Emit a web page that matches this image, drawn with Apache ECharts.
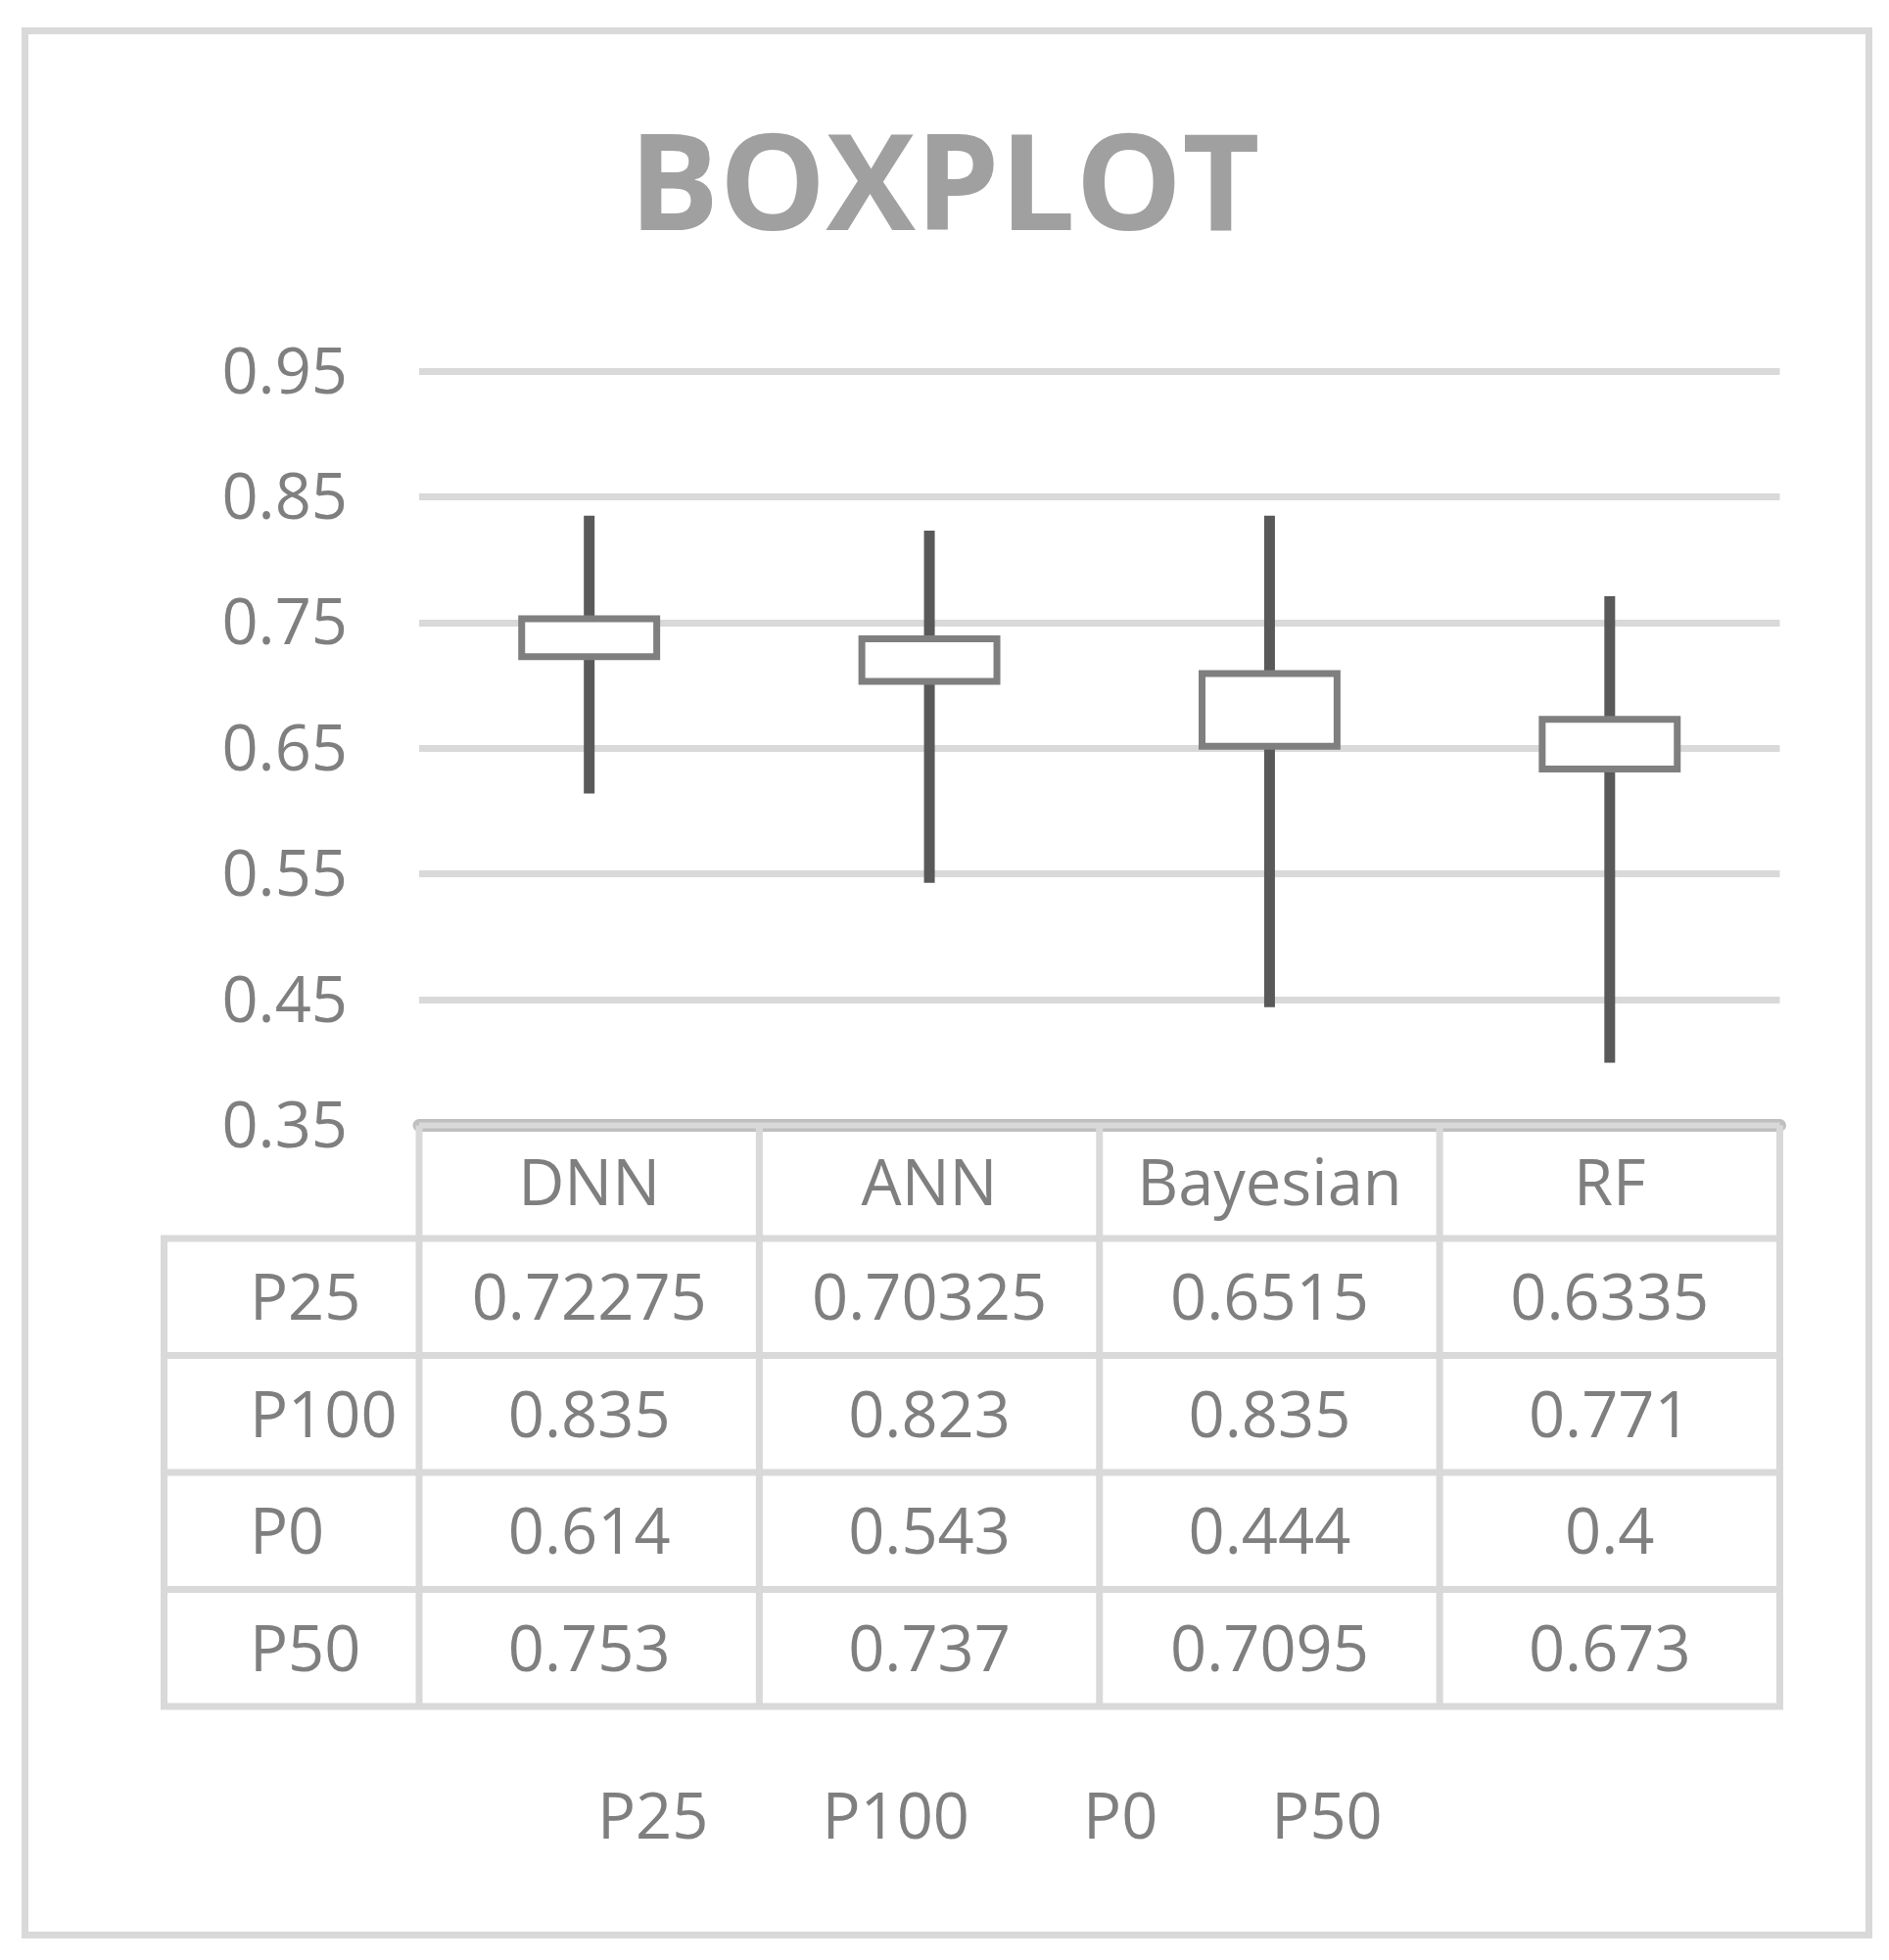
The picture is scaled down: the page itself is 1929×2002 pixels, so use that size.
<!DOCTYPE html>
<html>
<head>
<meta charset="utf-8">
<script src="https://cdn.jsdelivr.net/npm/echarts@6/dist/echarts.min.js"></script>
<style>
  html, body { margin: 0; padding: 0; background: #ffffff; }
  #chart { width: 1929px; height: 2002px; }
</style>
</head>
<body>
<div id="chart"></div>
<script>
// ---- data ----
const categories = ['DNN', 'ANN', 'Bayesian', 'RF'];
const seriesNames = ['P25', 'P100', 'P0', 'P50'];
const p25  = [0.72275, 0.70325, 0.6515, 0.6335];
const p100 = [0.835, 0.823, 0.835, 0.771];
const p0   = [0.614, 0.543, 0.444, 0.4];
const p50  = [0.753, 0.737, 0.7095, 0.673];
const yTicks = [0.35, 0.45, 0.55, 0.65, 0.75, 0.85, 0.95];

const seriesValues = [p25, p100, p0, p50];
const FONT = '"Open Sans", "Noto Sans", sans-serif';
const TXT = '#7f7f7f';
const FS = 65;

const chart = echarts.init(document.getElementById('chart'), null, { renderer: 'canvas' });

const boxData = categories.map((c, i) => [i, p25[i], p100[i], p0[i], p50[i]]);

const HEADER_H = 115.5;
const ROW_H = 119.5;
const TEXT_SHIFT = 5;

const option = {
  animation: false,
  backgroundColor: '#ffffff',
  title: {
    text: 'BOXPLOT',
    left: 'center',
    top: 122,
    textStyle: { fontFamily: FONT, fontWeight: 'bold', fontSize: 137, color: '#a0a0a0' }
  },
  legend: {
    data: seriesNames,
    left: 575,
    top: 1822,
    itemWidth: 25,
    itemHeight: 14,
    itemGap: 86,
    icon: 'rect',
    itemStyle: { opacity: 0 },
    lineStyle: { opacity: 0 },
    selectedMode: false,
    textStyle: { fontFamily: FONT, fontSize: FS, color: TXT }
  },
  grid: { left: 428, right: 111.5, top: 379, bottom: 852.4, containLabel: false },
  xAxis: {
    type: 'category',
    data: categories,
    boundaryGap: true,
    axisTick: { show: false },
    axisLine: { show: true, lineStyle: { color: '#bfbfbf', width: 13 } },
    axisLabel: {
      interval: 0,
      margin: TEXT_SHIFT,
      verticalAlign: 'top',
      formatter: function (name) {
        const i = categories.indexOf(name);
        let s = '{h|' + name + '}';
        seriesValues.forEach(arr => { s += '\n{v|' + String(arr[i]) + '}'; });
        return s;
      },
      rich: {
        h: { fontFamily: FONT, fontSize: FS, color: TXT, lineHeight: HEADER_H, align: 'center' },
        v: { fontFamily: FONT, fontSize: FS, color: TXT, lineHeight: ROW_H, align: 'center' }
      }
    }
  },
  yAxis: {
    type: 'value',
    min: yTicks[0],
    max: yTicks[yTicks.length - 1],
    interval: 0.1,
    axisLine: { show: false },
    axisTick: { show: false },
    axisLabel: {
      margin: 73,
      verticalAlign: 'top',
      lineHeight: 8,
      fontFamily: FONT, fontSize: FS, color: TXT,
      formatter: v => Number(v).toFixed(2)
    },
    splitLine: { show: true, lineStyle: { color: '#d9d9d9', width: 7 } }
  },
  series: [
    ...seriesNames.map((n, k) => ({
      name: n,
      type: 'line',
      data: seriesValues[k],
      symbol: 'none',
      silent: true,
      lineStyle: { opacity: 0 },
      itemStyle: { opacity: 0 },
      z: 1
    })),
    {
      name: 'box',
      type: 'custom',
      data: boxData,
      encode: { x: 0, y: [1, 2, 3, 4] },
      z: 5,
      renderItem: function (params, api) {
        const idx = api.value(0);
        const q1 = api.coord([idx, api.value(1)]);
        const hi = api.coord([idx, api.value(2)]);
        const lo = api.coord([idx, api.value(3)]);
        const q2 = api.coord([idx, api.value(4)]);
        const band = api.size([1, 0])[0];
        const w = band * 0.397;
        const top = Math.min(q1[1], q2[1]);
        const h = Math.abs(q1[1] - q2[1]);
        return {
          type: 'group',
          children: [
            { type: 'line', shape: { x1: hi[0], y1: hi[1], x2: lo[0], y2: lo[1] },
              style: { stroke: '#595959', lineWidth: 11, lineCap: 'butt' } },
            { type: 'rect', shape: { x: q1[0] - w / 2, y: top, width: w, height: h },
              style: { fill: '#ffffff', stroke: '#7f7f7f', lineWidth: 7 } }
          ]
        };
      }
    }
  ]
};

chart.setOption(option);

// ---- table grid lines & row labels derived from the axes ----
const xa = chart.convertToPixel({ xAxisIndex: 0 }, 0);
const xb = chart.convertToPixel({ xAxisIndex: 0 }, 1);
const band = xb - xa;
const x0 = xa - band / 2;
const xEnd = x0 + band * categories.length;
const y0 = chart.convertToPixel({ yAxisIndex: 0 }, yTicks[0]);
const labelColX = 167.5;
const LINE = '#d9d9d9';
const LW = 7;

const graphics = [];
// outer chart border
graphics.push({ type: 'rect', shape: { x: 25.5, y: 31.5, width: 1883, height: 1945 },
  style: { fill: null, stroke: LINE, lineWidth: LW }, z: 0, silent: true });
// table top line (inside axis line)
graphics.push({ type: 'line', shape: { x1: x0, y1: y0, x2: xEnd, y2: y0 },
  style: { stroke: LINE, lineWidth: 6 }, z: 100, silent: true });
const rowLines = [];
for (let k = 0; k <= seriesNames.length; k++) rowLines.push(y0 + HEADER_H + k * ROW_H);
const yBottom = rowLines[rowLines.length - 1];
rowLines.forEach(y => {
  graphics.push({ type: 'line', shape: { x1: labelColX - LW / 2, y1: y, x2: xEnd + LW / 2, y2: y },
    style: { stroke: LINE, lineWidth: LW }, z: 100, silent: true });
});
for (let i = 0; i <= categories.length; i++) {
  const x = x0 + i * band;
  graphics.push({ type: 'line', shape: { x1: x, y1: y0, x2: x, y2: yBottom },
    style: { stroke: LINE, lineWidth: LW }, z: 100, silent: true });
}
graphics.push({ type: 'line', shape: { x1: labelColX, y1: rowLines[0], x2: labelColX, y2: yBottom },
  style: { stroke: LINE, lineWidth: LW }, z: 100, silent: true });
seriesNames.forEach((n, k) => {
  graphics.push({ type: 'text', x: 255, y: (rowLines[k] + rowLines[k + 1]) / 2 + TEXT_SHIFT,
    style: { text: n, fontFamily: FONT, fontSize: FS, fill: TXT, verticalAlign: 'middle', align: 'left' },
    z: 100, silent: true });
});

chart.setOption({ graphic: graphics });
</script>
</body>
</html>
